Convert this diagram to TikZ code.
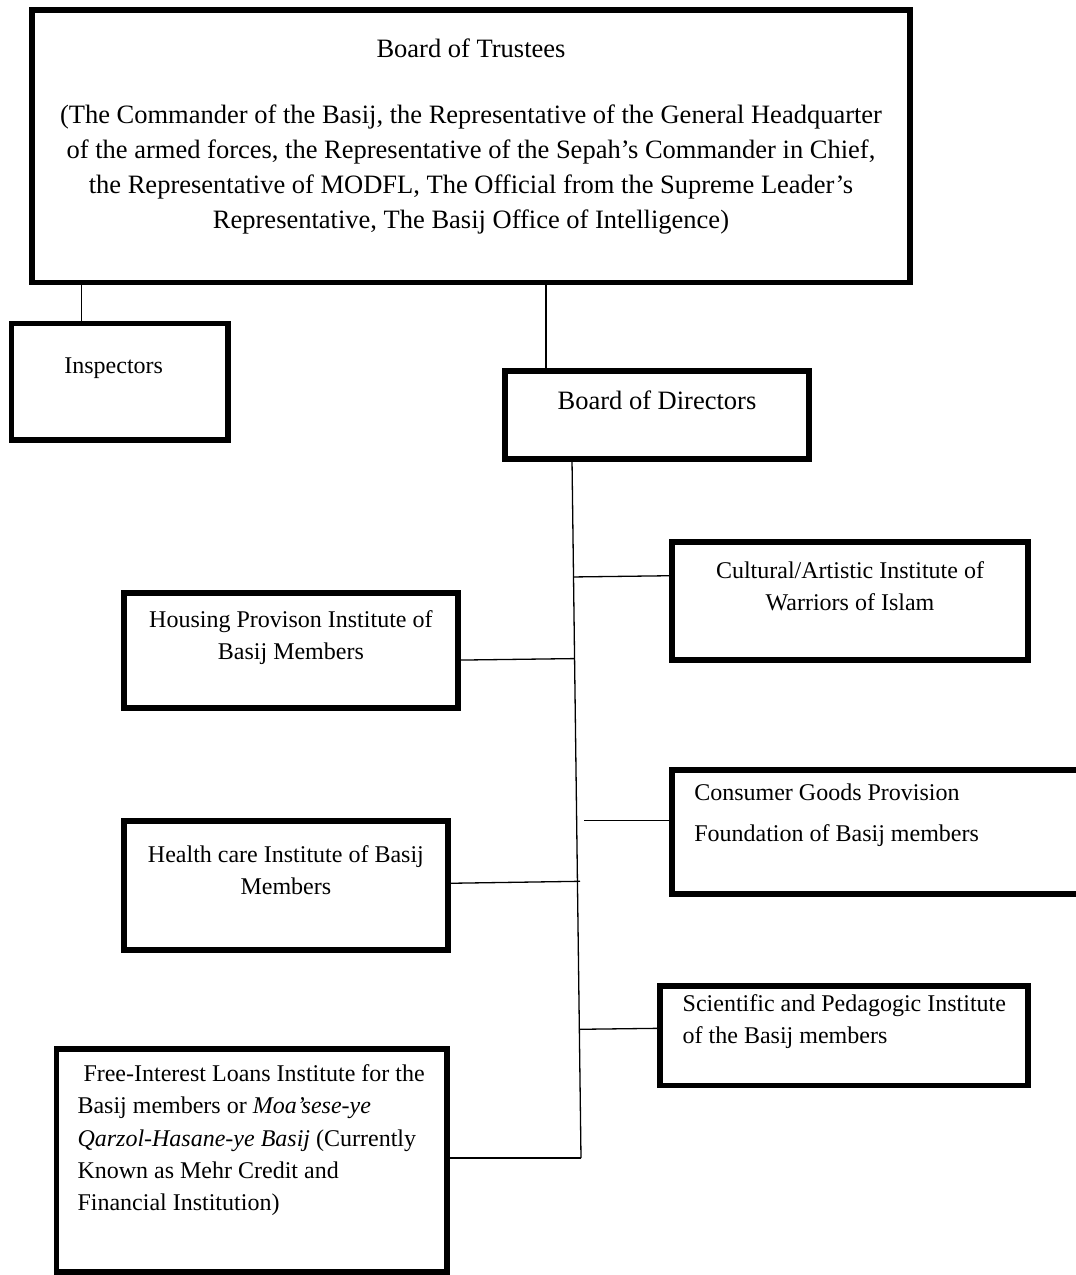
\documentclass[tikz,border=0pt]{standalone}
\usepackage{fontspec}
\setmainfont{Liberation Serif}
\usetikzlibrary{calc}
\newcommand{\bigfont}{\fontsize{26.5pt}{35pt}\selectfont}
\newcommand{\boxfont}{\fontsize{24pt}{31.7pt}\selectfont}
\newcommand{\boxtext}[5]{\parbox[c][#2][t]{#1}{#3\rule{0pt}{#4}#5}}

\begin{document}
\begin{tikzpicture}[x=1pt, y=-1pt,
    orgbox/.style={draw, line width=5.5pt, inner sep=0pt, outer sep=0pt},
    link/.style={line width=1.3pt}] % Basij chart

      \useasboundingbox (0,0) rectangle (1076,1275);

      \node [orgbox] (trustees) at (471,146.2) {\boxtext{878pt}{272.3pt}{\centering\bigfont}{47pt}{Board of Trustees\\[31pt]
        (The Commander of the Basij, the Representative of the General Headquarter\\
        of the armed forces, the Representative of the Sepah’s Commander in Chief,\\
        the Representative of MODFL, The Official from the Supreme Leader’s\\
        Representative, The Basij Office of Intelligence)}};
      \node [orgbox] (insp) at (119.7,381.6) {\boxtext{216.6pt}{116.4pt}{\centering\boxfont}{50.3pt}{\hspace*{-12pt}Inspectors}};
      \node [orgbox] (directors) at (657,415) {\boxtext{304.4pt}{88.4pt}{\centering\bigfont}{38.2pt}{Board of Directors}};

      \node [orgbox] (cultural) at (850,601) {\boxtext{356pt}{118pt}{\centering\boxfont}{36.3pt}{Cultural/Artistic Institute of\\ Warriors of Islam}};
      \node [orgbox] (housing) at (290.9,650.4) {\boxtext{334.2pt}{115.2pt}{\centering\boxfont}{34.5pt}{Housing Provison Institute of\\ Basij Members}};
      \node [orgbox] (consumer) at (877,832) {\boxtext{410pt}{124pt}{\raggedright\leftskip=22.3pt\fontsize{24pt}{41.7pt}\selectfont}{30pt}{Consumer Goods Provision\\ Foundation of Basij members}};
      \node [orgbox] (health) at (285.9,885.5) {\boxtext{324.2pt}{129pt}{\centering\boxfont}{41.7pt}{Health care Institute of Basij\\ Members}};
      \node [orgbox] (sci) at (844,1035.8) {\boxtext{368pt}{99.5pt}{\raggedright\leftskip=22.7pt\boxfont}{25.7pt}{Scientific and Pedagogic Institute\\ of the Basij members}};
      \node [orgbox] (free) at (251.8,1160.5) {\boxtext{390.8pt}{223.4pt}{\raggedright\leftskip=21.1pt\fontsize{24pt}{32.2pt}\selectfont}{32.9pt}{~Free-Interest Loans Institute for the\\
        Basij members or \textit{Moa’sese-ye}\\
        \textit{Qarzol-Hasane-ye Basij} (Currently\\
        Known as Mehr Credit and\\
        Financial Institution)}};

      \draw [link] ([xshift=-38.1pt]insp.north) -- ([xshift=-38.1pt]insp.north |- trustees.south);
      \draw [link] ([xshift=-111pt]directors.north) -- ([xshift=-111pt]directors.north |- trustees.south);

      \coordinate (spinetop) at ([xshift=-85pt]directors.south);
      \coordinate (spinebot) at (581,1158);
      \draw [link] (spinetop) -- (spinebot);

      \coordinate (cult-in) at ([yshift=25.3pt]cultural.west);
      \coordinate (hous-in) at ([yshift=-9.7pt]housing.east);
      \coordinate (sci-in) at ([yshift=7.5pt]sci.west);
      \draw [link] (cult-in) -- ($(spinetop)!(cult-in)!(spinebot)$);
      \draw [link] (hous-in) -- ($(spinetop)!(hous-in)!(spinebot)$);
      \draw [link] (sci-in) -- ($(spinetop)!(sci-in)!(spinebot)$);
      \draw [link] ([yshift=11.3pt]consumer.west) -- ++(-87.6,0);
      \draw [link] ([yshift=2.2pt]health.east) -- ++(132,-2);
      \draw [link] (free.east |- spinebot) -- (spinebot);

    \end{tikzpicture}
\end{document}
